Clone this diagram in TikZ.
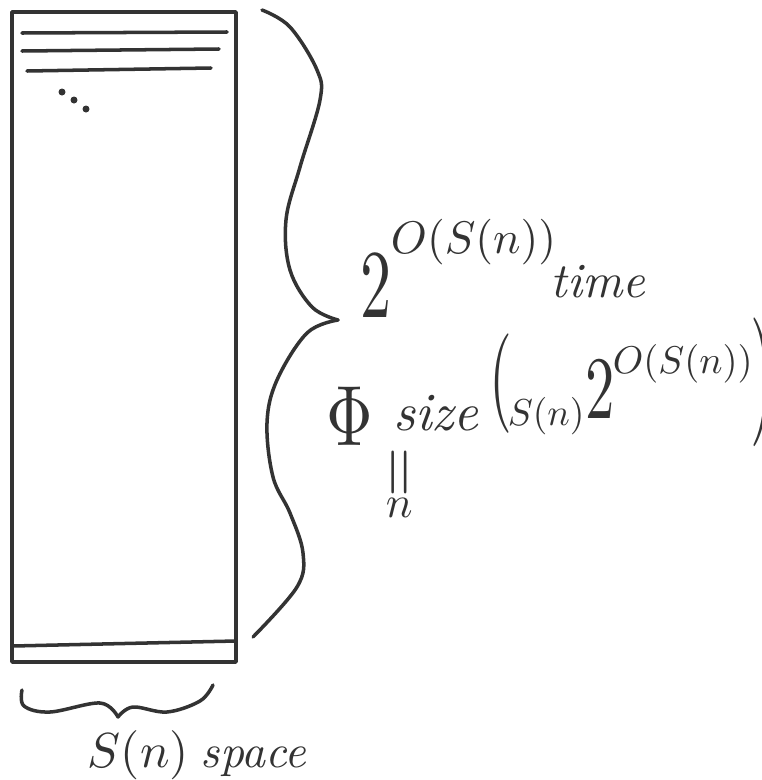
\documentclass[tikz,border=0pt]{standalone}
\usepackage{amsmath}
\usetikzlibrary{positioning}
\definecolor{ink}{HTML}{333333}

\begin{document}
\begin{tikzpicture}[x=0.03cm, y=-0.03cm,
    pen/.style={line width=3pt, color=ink, line cap=round, line join=round},
    glyph/.style={text=ink, inner sep=0pt},
    hand/.style={glyph, scale=#1},
    hand/.default=3.6
]
\useasboundingbox (0,0) rectangle (762,780);

% --- the tape (space used at each step) ---
\coordinate (tl) at (12,12);
\coordinate (br) at (236,662);
\draw[pen] (tl) rectangle (br);
\draw[pen] (13,646) -- (236,641);

% --- first configurations ---
\draw[pen] (22,33) -- (227,32);
\draw[pen] (22,51) -- (219,49);
\draw[pen] (27,71) -- (211,68);
\foreach \px/\py in {62/92, 74/100, 86/109}
    \fill[ink] (\px,\py) circle (3.5);

% --- right brace: number of steps ---
\coordinate (rtop) at (262,10);
\coordinate (rtip) at (338,320);
\coordinate (rbot) at (253,637);
\draw[pen] plot[smooth, tension=0.6] coordinates {(rtop) (290,27) (317,70) (320,100) (300,167) (286,220) (290,270) (312,307) (rtip)};
\draw[pen] plot[smooth, tension=0.6] coordinates {(rtip) (307,333) (277,380) (267,423) (273,477) (290,513) (303,553) (297,587) (rbot)};

% --- bottom brace: width ---
\coordinate (bleft) at (22,690);
\coordinate (btip) at (118,717);
\coordinate (bright) at (213,685);
\draw[pen] plot[smooth, tension=0.6] coordinates {(bleft) (24,706) (50,712) (100,703) (btip)};
\draw[pen] plot[smooth, tension=0.6] coordinates {(btip) (133,707) (167,712) (200,701) (bright)};

% --- time bound ---
\node[glyph, xscale=5.3, yscale=8.3, anchor=base] (two) at (376,317) {$2$};
\node[hand=3.9, anchor=base west] (exptime) at (390,253) {$O(S(n))$};
\node[hand=4.2, anchor=base west] (time) at (550,297) {\textit{time}};

% --- formula size ---
\node[glyph, xscale=5.5, yscale=7.3, anchor=base] (phi) at (350,445) {$\Phi$};
\node[hand=4.6, anchor=base west] (size) at (392,430) {\textit{size}};
\node[glyph, xscale=5, yscale=8.5] (lpar) at (501,384) {$($};
\node[hand=3.2, anchor=base west] (sn) at (507,425) {$S(n)$};
\node[glyph, xscale=5.0, yscale=7.6, anchor=base] (twob) at (600,418) {$2$};
\node[hand=3.3, anchor=base west] (expsize) at (612,373) {$O(S(n))$};
\node[glyph, xscale=5.3, yscale=11] (rpar) at (763,382) {$)$};
\node[hand=5.5, rotate=90] (eq) at (404,472) {$=$};
\node[hand=3.8, anchor=base west] (n) at (385,517) {$n$};

% --- space bound ---
\node[hand=4.2, anchor=base west] (snb) at (87,767) {$S(n)$};
\node[hand=4.0, anchor=base west] (space) at (200,767) {\textit{space}};

\end{tikzpicture}
\end{document}
